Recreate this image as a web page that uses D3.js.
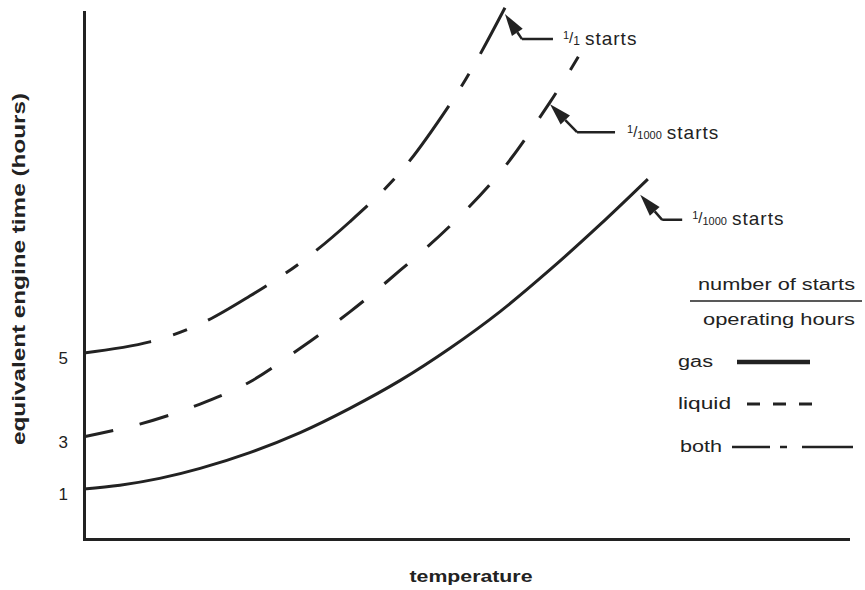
<!DOCTYPE html>
<html><head><meta charset="utf-8">
<script src="https://cdn.jsdelivr.net/npm/d3@7"></script>
<style>
body{margin:0;background:#fff}
svg{display:block}
text{font-family:"Liberation Sans",Arial,Helvetica,sans-serif;fill:#222}
</style>
</head><body>
<svg id="c" width="865" height="590"></svg>
<script>
// ---- data (abstract units, 0..100 on both axes) ----
const gasX    = [0, 4.7, 9.9, 15.2, 21.7, 28.3, 34.8, 41.4, 47.9, 54.5, 61.0, 67.5, 73.8];
const gasY    = [9.5, 10.2, 11.5, 13.4, 16.4, 20.2, 24.8, 30.1, 36.2, 43.2, 51.1, 59.6, 68.3];
const liquidX = [0, 7.3, 15.2, 21.7, 28.3, 34.8, 41.4, 47.9, 54.5, 61.0, 64.7];
const liquidY = [19.4, 21.8, 25.6, 29.8, 36.2, 43.1, 51.0, 59.4, 69.6, 82.9, 91.5];
const bothX   = [0, 8.6, 15.2, 21.7, 28.3, 34.8, 41.4, 47.9, 51.2, 55.1];
const bothY   = [35.3, 37.4, 40.8, 46.1, 52.4, 60.2, 69.6, 82.5, 90.3, 100.8];
const yTickValues = [9.5, 19.4, 35.3];
const yTickLabels = ["1", "3", "5"];
const legendNames = ["gas", "liquid", "both"];
const annotTipX = [55.1, 61.0, 72.8];
const annotTipY = [99.6, 82.5, 65.3];
const annotFrac = ["1", "1000", "1000"];
const xLabel = "temperature";
const yLabel = "equivalent engine time (hours)";

// ---- drawing ----
const svg = d3.select("#c");
const ink = "#222";
const x = d3.scaleLinear().domain([0, 100]).range([84, 848]);
const y = d3.scaleLinear().domain([0, 100]).range([539, 12]);

const line = d3.line().x(d => x(d[0])).y(d => y(d[1])).curve(d3.curveCatmullRom.alpha(0.5));
const series = [
  {name: "gas",    pts: d3.zip(gasX, gasY),       dash: null,            w: 3},
  {name: "liquid", pts: d3.zip(liquidX, liquidY), dash: "30,27",         w: 3},
  {name: "both",   pts: d3.zip(bothX, bothY),     dash: "68,23,15,23",   w: 3}
];
svg.append("g").selectAll("path").data(series).join("path")
  .attr("d", d => line(d.pts))
  .attr("fill", "none").attr("stroke", ink)
  .attr("stroke-width", d => d.w)
  .attr("stroke-linecap", "butt")
  .attr("stroke-dasharray", d => d.dash);

// axes
const gx = svg.append("g").attr("transform", "translate(0,539)")
  .call(d3.axisBottom(x).tickValues([]).tickSizeOuter(0));
const gy = svg.append("g").attr("transform", "translate(84,0)")
  .call(d3.axisLeft(y).tickValues(yTickValues).tickFormat((d, i) => yTickLabels[i])
        .tickSize(0).tickSizeOuter(0).tickPadding(16));
[gx, gy].forEach(g => {
  g.select(".domain").attr("stroke", ink).attr("stroke-width", 3).attr("stroke-linecap", "square");
});
gy.selectAll(".tick text").attr("font-size", 17).attr("fill", ink)
  .attr("font-family", "'Liberation Sans',Arial,sans-serif").attr("dy", "0.62em");

// axis titles
svg.append("text").attr("x", 471).attr("y", 582).attr("text-anchor", "middle")
  .attr("font-size", 17).attr("font-weight", "bold")
  .attr("textLength", 123).attr("lengthAdjust", "spacingAndGlyphs").text(xLabel);
svg.append("text").attr("transform", "translate(25,269) rotate(-90)").attr("text-anchor", "middle")
  .attr("font-size", 18).attr("font-weight", "bold")
  .attr("textLength", 352).attr("lengthAdjust", "spacingAndGlyphs").text(yLabel);

// annotations
const annotLayout = [
  {ex: 17, ey: 25, hx: 48, tx: 58, ty: 31},
  {ex: 27, ey: 28, hx: 65, tx: 77, ty: 35},
  {ex: 22, ey: 25, hx: 42, tx: 52, ty: 30}
];
annotTipX.forEach((tvx, i) => {
  const tx = x(tvx), ty = y(annotTipY[i]);
  const L = annotLayout[i];
  const ex = tx + L.ex, ey = ty + L.ey;
  const dx = tx - ex, dy = ty - ey, len = Math.hypot(dx, dy);
  const ux = dx / len, uy = dy / len;
  const ah = 22, aw = 6.5;
  const bx = tx - ux * ah, by = ty - uy * ah;
  const g = svg.append("g");
  g.append("path").attr("d", `M${ex},${ey}L${bx},${by}M${ex},${ey}L${tx + L.hx},${ey}`)
    .attr("stroke", ink).attr("stroke-width", 2.5).attr("fill", "none");
  g.append("path").attr("d", `M${tx},${ty}L${bx - uy * aw},${by + ux * aw}L${bx + uy * aw},${by - ux * aw}Z`)
    .attr("fill", ink);
  const t = g.append("text").attr("x", tx + L.tx).attr("y", ty + L.ty);
  t.append("tspan").attr("font-size", 11).attr("dy", -6).text("1");
  t.append("tspan").attr("font-size", 15).attr("dy", 4).text("/");
  t.append("tspan").attr("font-size", annotFrac[i].length > 1 ? 11 : 12).attr("dy", 2).text(annotFrac[i]);
  t.append("tspan").attr("font-size", 19).attr("dy", 0).attr("letter-spacing", 1).attr("dx", 5).text("starts");
});

// legend
const lg = svg.append("g");
lg.append("text").attr("x", 698).attr("y", 290).attr("font-size", 16)
  .attr("textLength", 157).attr("lengthAdjust", "spacingAndGlyphs").text("number of starts");
lg.append("line").attr("x1", 690).attr("x2", 862).attr("y1", 301).attr("y2", 301)
  .attr("stroke", ink).attr("stroke-width", 1.5);
lg.append("text").attr("x", 703).attr("y", 325).attr("font-size", 16)
  .attr("textLength", 152).attr("lengthAdjust", "spacingAndGlyphs").text("operating hours");
const legendRows = [
  {y: 362, tx: 678, tw: 35, x1: 737, x2: 810, dash: null, w: 4.5},
  {y: 404, tx: 678, tw: 53, x1: 747, x2: 817, dash: "13,13", w: 3},
  {y: 447, tx: 680, tw: 42, x1: 732, x2: 853, dash: "38,10,7,15,60", w: 2.5}
];
legendNames.forEach((n, i) => {
  const r = legendRows[i];
  lg.append("text").attr("x", r.tx).attr("y", r.y + 5).attr("font-size", 16)
    .attr("textLength", r.tw).attr("lengthAdjust", "spacingAndGlyphs").text(n);
  lg.append("line").attr("x1", r.x1).attr("x2", r.x2).attr("y1", r.y).attr("y2", r.y)
    .attr("stroke", ink).attr("stroke-width", r.w).attr("stroke-dasharray", r.dash);
});
</script>
</body></html>
